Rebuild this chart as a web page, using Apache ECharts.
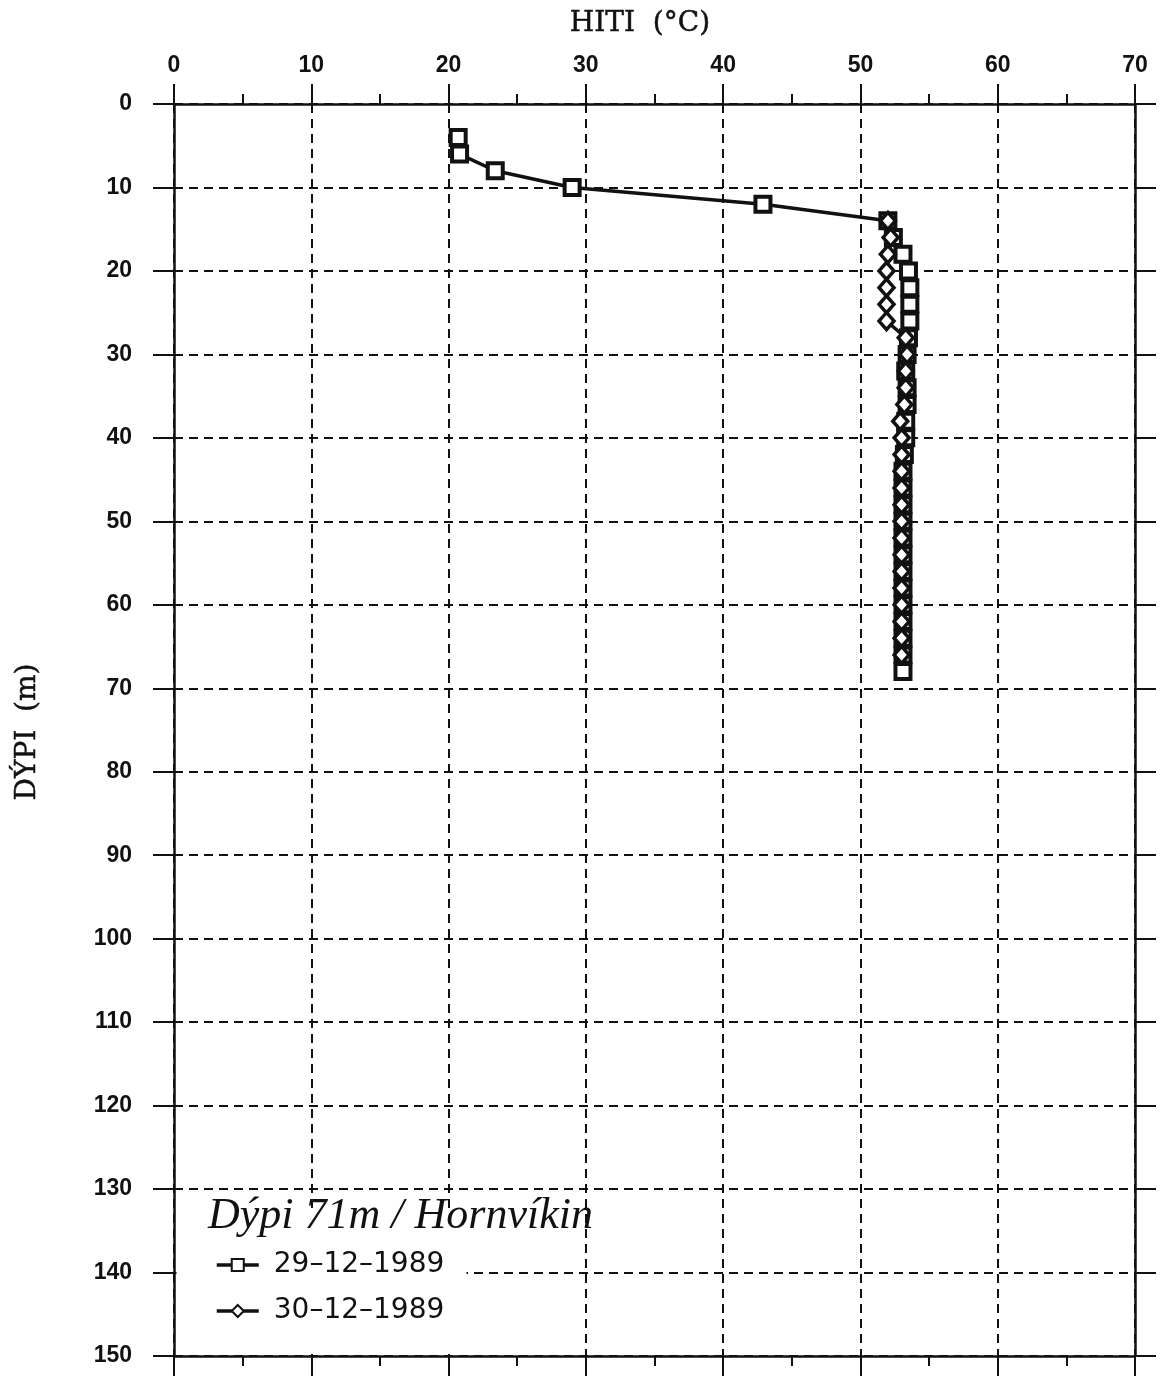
<!DOCTYPE html>
<html>
<head>
<meta charset="utf-8">
<script src="https://cdn.jsdelivr.net/npm/echarts@6/dist/echarts.min.js"></script>
<style>
  html, body { margin: 0; padding: 0; background: #ffffff; }
  #chart { width: 1161px; height: 1376px; }
</style>
</head>
<body>
<div id="chart"></div>
<script>
// Borehole temperature logs: depth (m) vs temperature (°C)
const seriesNames = ['29–12–1989', '30–12–1989'];

const depth1 = [4, 6, 8, 10, 12, 14, 16, 18, 20, 22, 24, 26, 28, 30, 32, 34, 36, 38, 40, 42, 44, 46, 48, 50, 52, 54, 56, 58, 60, 62, 64, 66, 68];
const temp1  = [20.7, 20.8, 23.4, 29.0, 42.9, 52.0, 52.4, 53.1, 53.5, 53.6, 53.6, 53.6, 53.5, 53.4, 53.3, 53.4, 53.4, 53.3, 53.3, 53.2, 53.1, 53.1, 53.1, 53.1, 53.1, 53.1, 53.1, 53.1, 53.1, 53.1, 53.1, 53.1, 53.1];

const depth2 = [14, 16, 18, 20, 22, 24, 26, 28, 30, 32, 34, 36, 38, 40, 42, 44, 46, 48, 50, 52, 54, 56, 58, 60, 62, 64, 66];
const temp2  = [52.0, 52.2, 52.0, 51.9, 51.9, 51.9, 51.9, 53.3, 53.4, 53.3, 53.3, 53.2, 52.9, 53.0, 53.0, 53.0, 53.0, 53.0, 53.0, 53.0, 53.0, 53.0, 53.0, 53.0, 53.0, 53.0, 53.0];

const tempMin = 0, tempMax = 70, tempStep = 10;
const depthMin = 0, depthMax = 150, depthStep = 10;

const xTitle = 'HITI  (°C)';
const yTitle = 'DÝPI  (m)';
const note = 'Dýpi 71m / Hornvíkin';

const pairs = (xs, ys) => xs.map((x, i) => [x, ys[i]]);

const ink = '#111111';
const labelFont = { color: ink, fontFamily: 'Liberation Sans', fontWeight: 'bold', fontSize: 23 };
const dashed = { show: true, lineStyle: { color: ink, width: 2, type: [9, 6] } };

const chart = echarts.init(document.getElementById('chart'), null, { renderer: 'canvas' });

const xBase = {
  type: 'value', min: tempMin, max: tempMax, interval: tempStep,
  axisLine: { show: true, onZero: false, lineStyle: { color: ink, width: 2.5 } },
  axisTick: { show: true, inside: false, length: 20, lineStyle: { color: ink, width: 2 } },
  minorTick: { show: true, splitNumber: 2, length: 10, lineStyle: { color: ink, width: 2 } },
  minorSplitLine: { show: false }
};
const yBase = {
  type: 'value', inverse: true, min: depthMin, max: depthMax, interval: depthStep,
  axisLine: { show: true, onZero: false, lineStyle: { color: ink, width: 2.5 } },
  axisTick: { show: true, inside: false, length: 21, lineStyle: { color: ink, width: 2 } }
};

chart.setOption({
  animation: false,
  backgroundColor: '#ffffff',
  grid: { left: 174, top: 104, width: 961, height: 1252, containLabel: false },
  xAxis: [
    Object.assign({}, xBase, {
      position: 'top',
      axisLabel: Object.assign({ show: true, margin: 27 }, labelFont),
      splitLine: dashed
    }),
    Object.assign({}, xBase, {
      position: 'bottom',
      axisLabel: { show: false },
      splitLine: { show: false }
    })
  ],
  yAxis: [
    Object.assign({}, yBase, {
      position: 'left',
      axisLabel: Object.assign({ show: true, margin: 42 }, labelFont),
      splitLine: dashed
    }),
    Object.assign({}, yBase, {
      position: 'right',
      axisLabel: { show: false },
      splitLine: { show: false }
    })
  ],
  legend: {
    orient: 'vertical',
    left: 210, top: 1246,
    itemWidth: 42, itemHeight: 15, itemGap: 18,
    data: seriesNames,
    lineStyle: { color: ink, width: 3.5 },
    textStyle: { color: ink, fontFamily: 'DejaVu Sans', fontSize: 28, padding: [0, 0, 0, 10] }
  },
  graphic: [
    {
      // blank panel behind the legend and note, covering the grid lines
      type: 'rect', z: 1,
      shape: { x: 176.5, y: 1214, width: 290, height: 140 },
      style: { fill: '#ffffff' }
    },
    {
      type: 'text', x: 640, y: 24,
      style: { text: xTitle, align: 'center', verticalAlign: 'middle',
               font: '28px "DejaVu Serif"', fill: ink, stroke: ink, lineWidth: 0.5 }
    },
    {
      type: 'text', x: 28, y: 732, rotation: Math.PI / 2,
      style: { text: yTitle, align: 'center', verticalAlign: 'middle',
               font: '28px "DejaVu Serif"', fill: ink, stroke: ink, lineWidth: 0.5 }
    },
    {
      type: 'text', x: 208, y: 1216, z: 2,
      style: { text: note, align: 'left', verticalAlign: 'middle',
               font: 'italic 44px "Liberation Serif"', fill: ink }
    }
  ],
  series: [
    {
      name: seriesNames[0], type: 'line', xAxisIndex: 0, yAxisIndex: 0,
      data: pairs(temp1, depth1),
      symbol: 'rect', symbolSize: 15,
      lineStyle: { color: ink, width: 3.5 },
      itemStyle: { color: '#ffffff', borderColor: ink, borderWidth: 4 },
      z: 3
    },
    {
      name: seriesNames[1], type: 'line', xAxisIndex: 0, yAxisIndex: 0,
      data: pairs(temp2, depth2),
      symbol: 'diamond', symbolSize: [15, 17],
      lineStyle: { color: ink, width: 3.5 },
      itemStyle: { color: '#ffffff', borderColor: ink, borderWidth: 3.5 },
      z: 4
    }
  ]
});
</script>
</body>
</html>
